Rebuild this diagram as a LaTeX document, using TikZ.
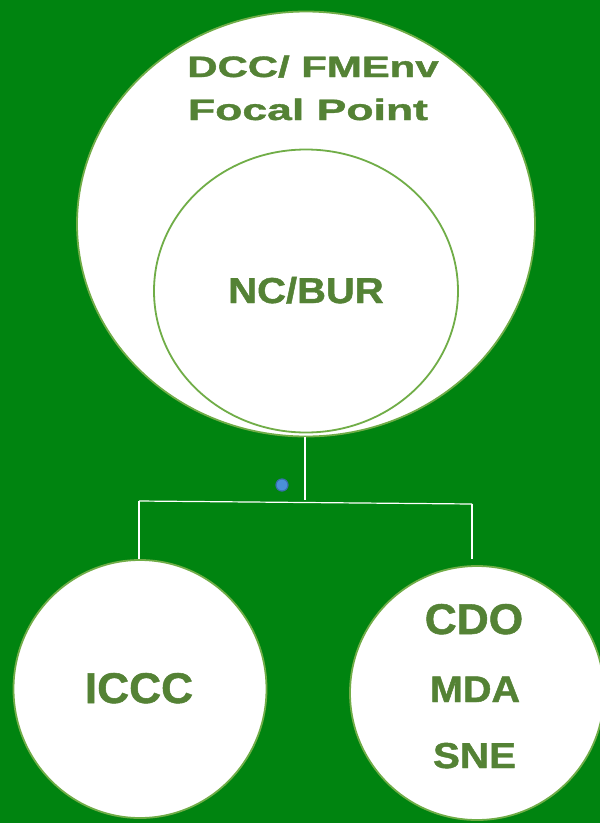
\documentclass[tikz,border=0pt]{standalone}
\usepackage{fontspec}
\setmainfont{Liberation Sans}[BoldFeatures={FakeBold=1.2}]
\usepackage{tikz}
\usetikzlibrary{shapes,positioning,calc}
\usepackage{xcolor}
\definecolor{bggreen}{RGB}{0,132,16}
\definecolor{textgreen}{RGB}{84,130,53}
\definecolor{ringgreen}{RGB}{112,173,71}
\definecolor{dotblue}{RGB}{74,144,217}
\definecolor{dotrim}{RGB}{58,111,176}

\newcommand{\wide}[2]{\scalebox{#1}[1]{#2}}

\tikzset{
    bubble/.style={ellipse, draw=ringgreen, line width=1.8pt, fill=white, inner sep=0pt},
    label/.style={text=textgreen, anchor=base, inner sep=0pt},
    link/.style={draw=white, line width=1.2pt}
}

\begin{document}
\begin{tikzpicture}[x=1pt,y=-1pt]
    % Background
    \fill[bggreen] (0,0) rectangle (600,823);
    \useasboundingbox (0,0) rectangle (600,823);

    % Outer and inner circles
    \node[bubble, minimum width=458pt, minimum height=425pt] (outer) at (306,224) {};
    \node[bubble, minimum width=304pt, minimum height=283pt] (inner) at (306,291) {};
    \node[label, font=\fontsize{29.5}{32}\selectfont\bfseries] (dcc) at (313,77) {\wide{1.42}{DCC/ FMEnv}};
    \node[label, font=\fontsize{29.5}{32}\selectfont\bfseries] (focal) at (308,120) {\wide{1.51}{Focal Point}};
    \node[label, font=\fontsize{36}{40}\selectfont\bfseries] (ncbur) at (306,303) {\wide{1.11}{NC/BUR}};

    % Lower circles
    \node[bubble, minimum width=253pt, minimum height=258pt] (iccc) at (140,689) {};
    \node[bubble, minimum width=254pt, minimum height=254pt] (right) at (477,693) {};
    \node[label, font=\fontsize{43}{46}\selectfont\bfseries] (icccl) at (139,703) {\wide{1.03}{ICCC}};
    \node[label, font=\fontsize{43}{46}\selectfont\bfseries] (cdo) at (474,634) {\wide{1.03}{CDO}};
    \node[label, font=\fontsize{37}{40}\selectfont\bfseries] (mda) at (475,702) {\wide{1.07}{MDA}};
    \node[label, font=\fontsize{36}{40}\selectfont\bfseries] (sne) at (474.5,768) {\wide{1.12}{SNE}};

    % Connectors
    \coordinate (split) at (305,500);
    \coordinate (leftend) at (139,501);
    \coordinate (rightend) at (472,504);
    \draw[link] (outer.south -| split) -- (split);
    \draw[link] (leftend) -- (rightend);
    \draw[link] (leftend) -- (iccc.north -| leftend);
    \draw[link] (rightend) -- (472,559);

    % Blue dot
    \node[circle, fill=dotblue, draw=dotrim, line width=1.2pt, minimum size=12pt, inner sep=0pt] (dot) at (282,485) {};
\end{tikzpicture}
\end{document}
